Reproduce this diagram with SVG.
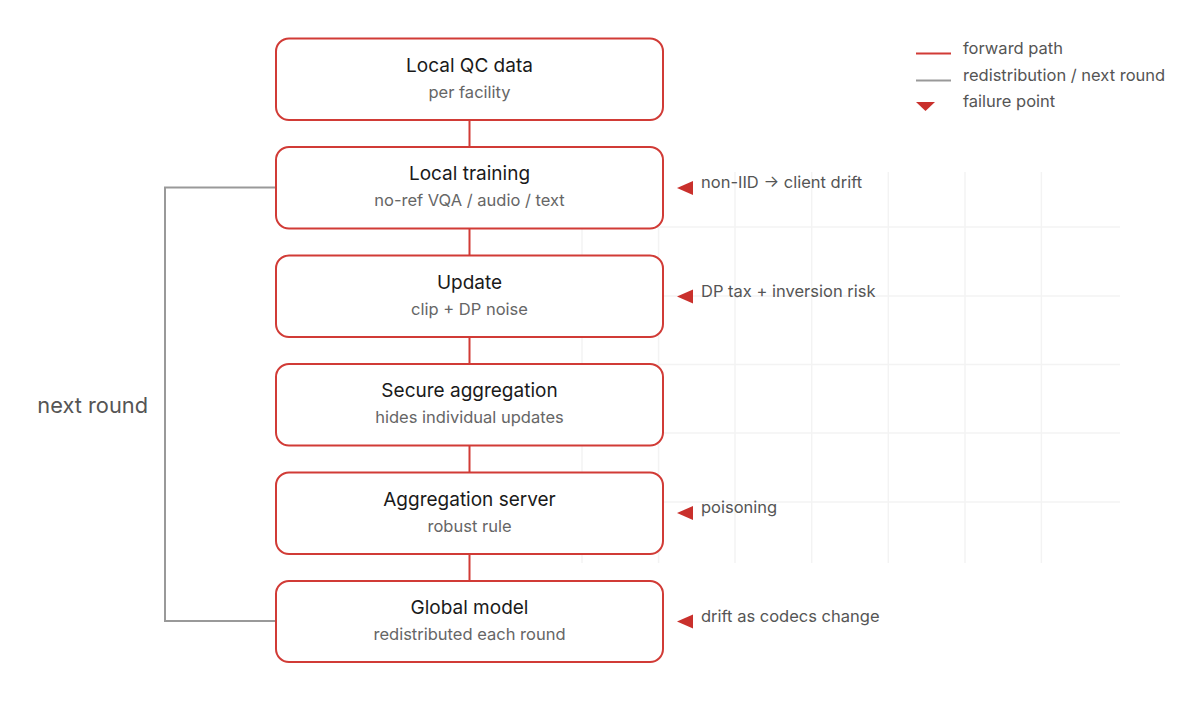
<svg xmlns="http://www.w3.org/2000/svg" width="1200" height="708" viewBox="0 0 1200 708">
<style>
text{font-family:Inter,"Liberation Sans",Arial,sans-serif}
.box{fill:#fff;stroke:#d13b36;stroke-width:2}
.title{font-size:19px;fill:#1a1a1a;text-anchor:middle}
.sub{font-size:16.5px;fill:#666;text-anchor:middle}
.fwd{stroke:#d13b36;stroke-width:2;fill:none}
.back{stroke:#999;stroke-width:2;fill:none}
.note{font-size:16.5px;fill:#555}
.fail{fill:#c9302c}
.grid line{stroke:#f3f3f3;stroke-width:1.5}
</style>
<rect width="1200" height="708" fill="#fff"/>
<g class="grid">
<line x1="582" y1="172" x2="582" y2="563"/>
<line x1="658.6" y1="172" x2="658.6" y2="563"/>
<line x1="735" y1="172" x2="735" y2="563"/>
<line x1="811.7" y1="172" x2="811.7" y2="563"/>
<line x1="888.3" y1="172" x2="888.3" y2="563"/>
<line x1="965" y1="172" x2="965" y2="563"/>
<line x1="1041.4" y1="172" x2="1041.4" y2="563"/>
<line x1="582" y1="227" x2="1120" y2="227"/>
<line x1="582" y1="296" x2="1120" y2="296"/>
<line x1="582" y1="364.5" x2="1120" y2="364.5"/>
<line x1="582" y1="433" x2="1120" y2="433"/>
<line x1="582" y1="502" x2="1120" y2="502"/>
</g>
<g id="connectors">
<line class="fwd" x1="469.5" y1="120" x2="469.5" y2="147"/>
<line class="fwd" x1="469.5" y1="228.5" x2="469.5" y2="255.5"/>
<line class="fwd" x1="469.5" y1="337" x2="469.5" y2="364"/>
<line class="fwd" x1="469.5" y1="445.5" x2="469.5" y2="472.5"/>
<line class="fwd" x1="469.5" y1="554" x2="469.5" y2="581"/>
<polyline class="back" points="276,621 165,621 165,187.5 276,187.5"/>
<text x="148" y="413" font-size="21.8" fill="#555" text-anchor="end">next round</text>
</g>
<g id="n1">
<rect class="box" x="276" y="38.5" width="387" height="81.5" rx="13"/>
<text class="title" x="469.5" y="71.5">Local QC data</text>
<text class="sub" x="469.5" y="97.5">per facility</text>
</g>
<g id="n2">
<rect class="box" x="276" y="147" width="387" height="81.5" rx="13"/>
<text class="title" x="469.5" y="180">Local training</text>
<text class="sub" x="469.5" y="206">no-ref VQA / audio / text</text>
</g>
<g id="n3">
<rect class="box" x="276" y="255.5" width="387" height="81.5" rx="13"/>
<text class="title" x="469.5" y="288.5">Update</text>
<text class="sub" x="469.5" y="314.5">clip + DP noise</text>
</g>
<g id="n4">
<rect class="box" x="276" y="364" width="387" height="81.5" rx="13"/>
<text class="title" x="469.5" y="397">Secure aggregation</text>
<text class="sub" x="469.5" y="423">hides individual updates</text>
</g>
<g id="n5">
<rect class="box" x="276" y="472.5" width="387" height="81.5" rx="13"/>
<text class="title" x="469.5" y="505.5">Aggregation server</text>
<text class="sub" x="469.5" y="531.5">robust rule</text>
</g>
<g id="n6">
<rect class="box" x="276" y="581" width="387" height="81" rx="13"/>
<text class="title" x="469.5" y="613.5">Global model</text>
<text class="sub" x="469.5" y="639.5">redistributed each round</text>
</g>
<g id="failures">
<polygon class="fail" points="677,188 693,181 693,195"/>
<text class="note" x="701" y="188">non-IID → client drift</text>
<polygon class="fail" points="677,296.5 693,289.5 693,303.5"/>
<text class="note" x="701" y="296.5">DP tax + inversion risk</text>
<polygon class="fail" points="677,513 693,506 693,520"/>
<text class="note" x="701" y="513">poisoning</text>
<polygon class="fail" points="677,621.5 693,614.5 693,628.5"/>
<text class="note" x="701" y="621.5">drift as codecs change</text>
</g>
<g id="legend">
<line x1="916" y1="53.5" x2="951" y2="53.5" stroke="#d13b36" stroke-width="2"/>
<text class="note" x="963" y="54">forward path</text>
<line x1="916" y1="80.5" x2="951" y2="80.5" stroke="#999" stroke-width="2"/>
<text class="note" x="963" y="81">redistribution / next round</text>
<polygon class="fail" points="916,102 935,102 925.5,111"/>
<text class="note" x="963" y="107">failure point</text>
</g>
</svg>
